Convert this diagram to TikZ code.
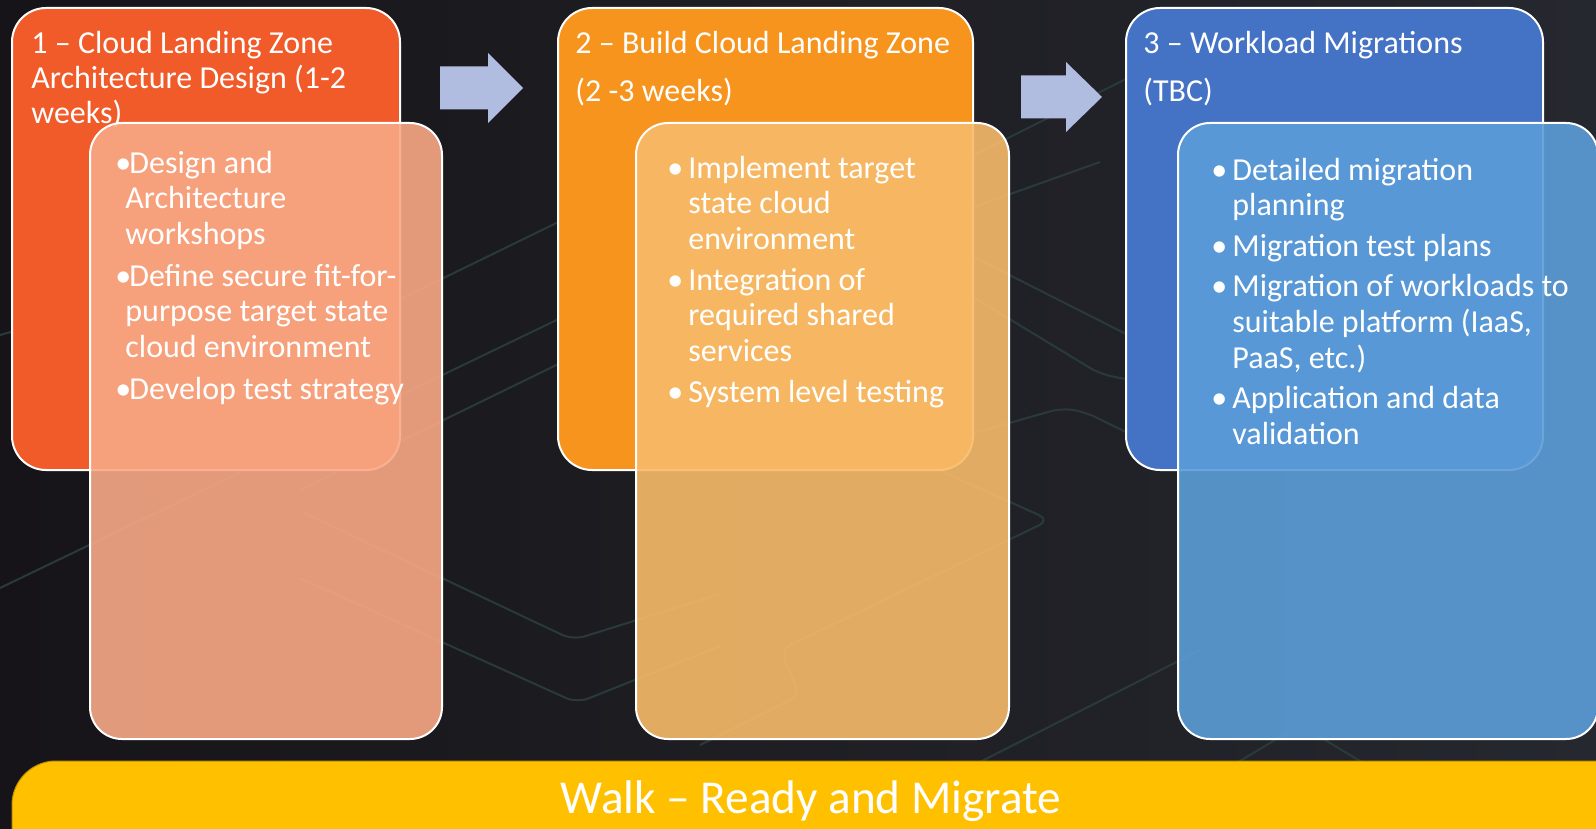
\documentclass[tikz,border=0pt]{standalone}
\usepackage{fontspec}
\setmainfont{Carlito}
\usetikzlibrary{positioning}

\definecolor{bgleft}{RGB}{22,20,24}
\definecolor{bgright}{RGB}{38,40,47}
\definecolor{bgline}{RGB}{42,58,60}
\definecolor{phaseone}{RGB}{241,90,41}
\definecolor{phasetwo}{RGB}{247,148,30}
\definecolor{phasethree}{RGB}{68,114,196}
\definecolor{detailone}{RGB}{248,169,134}
\definecolor{detailtwo}{RGB}{248,187,106}
\definecolor{detailthree}{RGB}{92,157,216}
\definecolor{arrowblue}{RGB}{176,188,224}
\definecolor{walkyellow}{RGB}{255,192,0}
\definecolor{walkedge}{RGB}{191,144,0}

\newcommand{\boxfont}{\fontsize{16}{17.8}\selectfont}
\newcommand{\bul}[1][10.5pt]{\makebox[#1][l]{\textbullet}}

\begin{document}
\begin{tikzpicture}[x=0.5pt, y=-0.5pt,
    phasebox/.style={draw=white, line width=1pt, rounded corners=17pt, inner sep=0pt, minimum height=231pt},
    detailbox/.style={draw=white, line width=1pt, rounded corners=16pt, inner sep=0pt, minimum height=308pt, fill opacity=0.9},
    boxtext/.style={text=white, inner sep=0pt, anchor=base west, font=\boxfont},
    bgtrace/.style={draw=bgline, line width=1pt, rounded corners=6pt},
    blockarrow/.style={fill=arrowblue}]
    \useasboundingbox (0,0) rectangle (1596,829);
    \clip (0,0) rectangle (1596,829);
    \fill[left color=bgleft, right color=bgright] (0,0) rectangle (1596,829);

    % faint circuit lines in the background
    \draw[bgtrace] (0,588) -- (700,251);
    \draw[bgtrace] (300,348) -- (700,153);
    \draw[bgtrace] (300,490) -- (700,295);
    \draw[bgtrace] (300,511) -- (573,640) -- (720,594);
    \draw[bgtrace] (300,578) -- (577,703) -- (720,646);
    \draw[bgtrace] (0,335) -- (60,318);
    \draw[bgtrace] (960,162) -- (1200,42);
    \draw[bgtrace] (960,212) -- (1100,162);
    \draw[bgtrace] (960,250) -- (1130,336);
    \draw[bgtrace] (960,289) -- (1100,374) -- (1130,380);
    \draw[bgtrace] (960,437) -- (1062,408) -- (1085,412) -- (1130,434);
    \draw[bgtrace] (930,466) -- (1050,520) -- (780,650) -- (800,695) -- (700,745);
    \draw[bgtrace] (980,762) -- (1200,650);
    \draw[bgtrace] (1200,785) -- (1300,725) -- (1400,785);

    % phase boxes
    \node[phasebox, fill=phaseone, minimum width=194pt] (box1) at (206,239) {};
    \node[phasebox, fill=phasetwo, minimum width=207.5pt] (box2) at (765.5,239) {};
    \node[phasebox, fill=phasethree, minimum width=208.5pt] (box3) at (1334.5,239) {};

    \node[boxtext] (title1) at (31,54) {\begin{tabular}[t]{@{}l@{}}1 – Cloud Landing Zone\\[-0.4pt]Architecture Design (1-2\\[-0.4pt]weeks)\end{tabular}};
    \node[boxtext] (title2) at (575,54) {\begin{tabular}[t]{@{}l@{}}2 – Build Cloud Landing Zone\\[6.2pt](2 -3 weeks)\end{tabular}};
    \node[boxtext] (title3) at (1143,54) {\begin{tabular}[t]{@{}l@{}}3 – Workload Migrations\\[6.2pt](TBC)\end{tabular}};

    % arrows between phases
    \coordinate (arr1) at (440,88);
    \coordinate (arr2) at (1021,97);
    \fill[blockarrow] (arr1) ++(0,-21.5) -- ++(48,0) -- ++(0,-13.5) -- ++(35,35) -- ++(-35,35) -- ++(0,-13.5) -- ++(-48,0) -- cycle;
    \fill[blockarrow] (arr2) ++(0,-21.5) -- ++(45,0) -- ++(0,-13.5) -- ++(36,35) -- ++(-36,35) -- ++(0,-13.5) -- ++(-45,0) -- cycle;

    % detail boxes
    \node[detailbox, fill=detailone, minimum width=176pt] (detail1) at (266,431) {};
    \node[detailbox, fill=detailtwo, minimum width=186.5pt] (detail2) at (822.5,431) {};
    \node[detailbox, fill=detailthree, minimum width=210pt] (detail3) at (1388,431) {};

    \node[boxtext] (list1) at (115,173) {\begin{tabular}[t]{@{}l@{}}
        \bul[7pt]Design and\\
        \hspace*{5pt}Architecture\\
        \hspace*{5pt}workshops\\[3.2pt]
        \bul[7pt]Define secure fit-for-\\
        \hspace*{5pt}purpose target state\\
        \hspace*{5pt}cloud environment\\[3.2pt]
        \bul[7pt]Develop test strategy
    \end{tabular}};
    \node[boxtext] (list2) at (667,178) {\begin{tabular}[t]{@{}l@{}}
        \bul Implement target\\
        \hspace*{10.5pt}state cloud\\
        \hspace*{10.5pt}environment\\[2.6pt]
        \bul Integration of\\
        \hspace*{10.5pt}required shared\\
        \hspace*{10.5pt}services\\[2.6pt]
        \bul System level testing
    \end{tabular}};
    \node[boxtext] (list3) at (1211,180) {\begin{tabular}[t]{@{}l@{}}
        \bul Detailed migration\\
        \hspace*{10.5pt}planning\\[2.5pt]
        \bul Migration test plans\\[2.5pt]
        \bul Migration of workloads to\\
        \hspace*{10.5pt}suitable platform (IaaS,\\
        \hspace*{10.5pt}PaaS, etc.)\\[2.5pt]
        \bul Application and data\\
        \hspace*{10.5pt}validation
    \end{tabular}};

    % stage banner
    \node[draw=walkedge, line width=0.5pt, fill=walkyellow, rounded corners=22pt, inner sep=0pt, minimum width=819pt, minimum height=54.5pt] (walkbar) at (831,815.5) {};
    \node[text=white, inner sep=0pt, anchor=base, font=\fontsize{23.6}{28}\selectfont] (walk) at (811,813) {Walk – Ready and Migrate};
\end{tikzpicture}
\end{document}
